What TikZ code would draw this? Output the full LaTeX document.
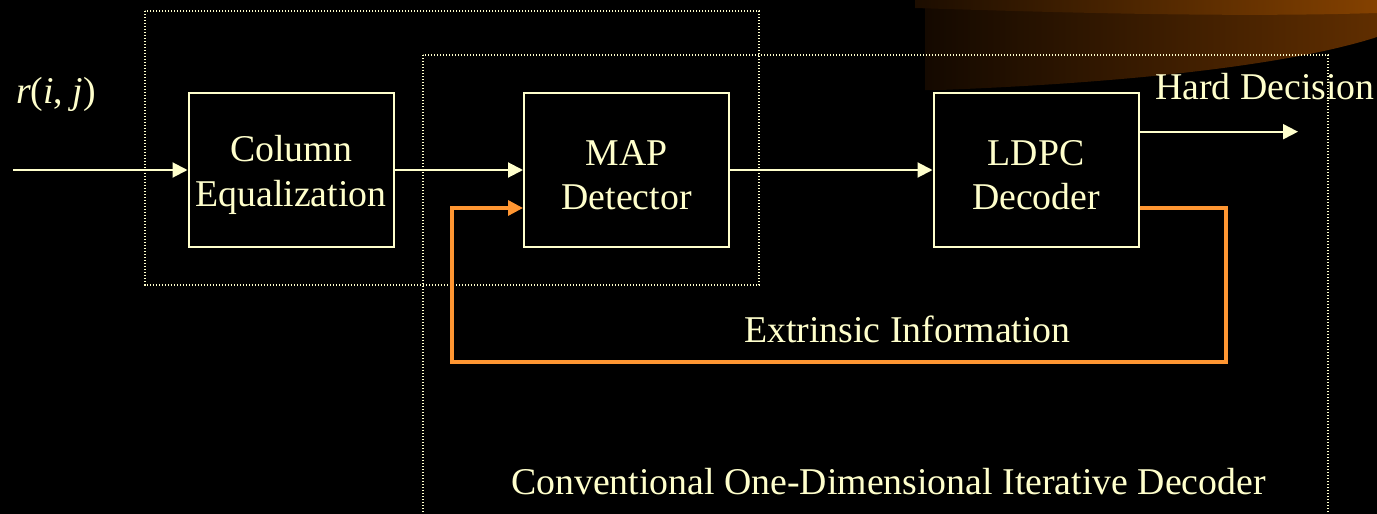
\documentclass[tikz,border=0pt]{standalone}
\usepackage{fontspec}
\setmainfont{Liberation Serif}
\usetikzlibrary{arrows.meta}
\definecolor{cream}{RGB}{255,255,204}
\definecolor{feedorange}{RGB}{255,150,50}
\definecolor{swooshdarkL}{RGB}{20,9,0}
\definecolor{swooshdarkR}{RGB}{96,46,0}
\definecolor{swooshlightL}{RGB}{28,13,0}
\definecolor{swooshlightR}{RGB}{132,65,0}
\tikzset{
  blockbox/.style={draw=cream, line width=2pt, minimum width=205pt, minimum height=154pt,
    inner sep=0pt},
  label/.style={text=cream, inner sep=0pt, align=center},
  arr/.style={draw=cream, line width=2pt, -{Triangle[length=15pt,width=15pt]}},
  fb/.style={draw=feedorange, line width=3.3pt, -{Triangle[length=15pt,width=15pt]}},
  dotbox/.style={draw=cream, line width=1.3pt, dash pattern=on 1.3pt off 1.7pt},
}
\begin{document}
\begin{tikzpicture}[x=1pt, y=-1pt, font=\fontsize{37.8pt}{44.3pt}\selectfont]
  \useasboundingbox (0,0) rectangle (1377,514);
  \fill[black] (0,0) rectangle (1377,514);

  % decorative swoosh in the upper right corner
  \shade[left color=swooshdarkL, right color=swooshdarkR]
    (925,0) -- (1377,0) -- (1377,37)
    .. controls (1300,62) and (1150,82) .. (940,90) -- (925,90) -- cycle;
  \shade[left color=swooshlightL, right color=swooshlightR]
    (915,0) -- (1377,0) -- (1377,13)
    .. controls (1250,17) and (1100,14) .. (915,8) -- cycle;

  % grouping frames
  \draw[dotbox] (145,11) rectangle (759,285);
  \draw[dotbox] (423,55) rectangle (1328,530);

  % processing blocks
  \node[blockbox] (col)  at (291,170)   {};
  \node[blockbox] (map)  at (626.5,170) {};
  \node[blockbox] (ldpc) at (1036,170)  {};
  \node[label] (colt)  at ([yshift=-5pt]col.center)  {Column\\Equalization};
  \node[label] (mapt)  at ([yshift=-5pt]map.center)  {MAP\\Detector};
  \node[label] (ldpct) at ([yshift=-5pt]ldpc.center) {LDPC\\Decoder};

  % signal path
  \coordinate (in) at (13,170);
  \coordinate (hd) at (1298,131.7);
  \draw[arr] (in) -- (col.west);
  \draw[arr] (col.east) -- (map.west);
  \draw[arr] (map.east) -- (ldpc.west);
  \draw[arr] (ldpc.east |- hd) -- (hd);

  % extrinsic information feedback
  \coordinate (fbR) at (1226,208);
  \coordinate (fbL) at (452,362);
  \draw[fb] (ldpc.east |- fbR) -- (fbR) |- (fbL) |- (map.west |- fbR);

  % labels
  \node[label, anchor=base] (rij) at (56,103) {\textit{r}(\textit{i}, \textit{j})};
  \node[label, anchor=base] (hard) at (1265,99) {Hard Decision};
  \node[label, anchor=base] (ext) at (907.5,342) {Extrinsic Information};
  \node[label, anchor=base] (conv) at (888.5,494) {Conventional One-Dimensional Iterative Decoder};
\end{tikzpicture}
\end{document}
